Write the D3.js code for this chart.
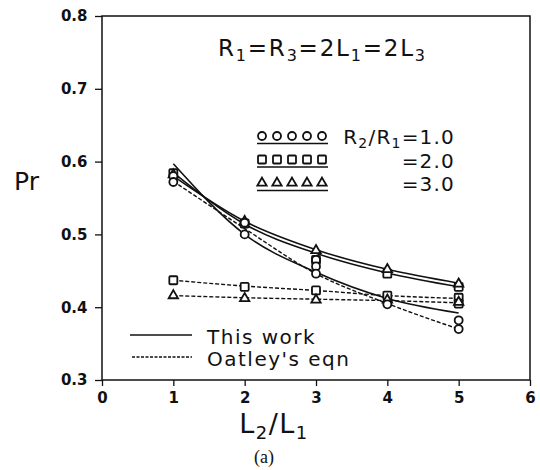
<!DOCTYPE html>
<html>
<head>
<meta charset="utf-8">
<script src="https://cdn.jsdelivr.net/npm/d3@7"></script>
<style>
  body { margin: 0; background: #fff; }
  text { font-family: "DejaVu Sans", sans-serif; fill: #111; }
</style>
</head>
<body>
<div id="chart"></div>
<script>
// L2/L1 positions
const ratios = [1, 2, 3, 4, 5];

// solid lines ("This work")
const workCircle   = [0.597, 0.500, 0.448, 0.412, 0.392];
const workSquare   = [0.585, 0.514, 0.474, 0.447, 0.428];
const workTriangle = [0.580, 0.518, 0.479, 0.452, 0.433];

// dashed lines ("Oatley's eqn")
const oatCircle   = [0.573, 0.508, 0.446, 0.405, 0.370];
const oatSquare   = [0.437, 0.429, 0.423, 0.416, 0.412];
const oatTriangle = [0.416, 0.413, 0.411, 0.409, 0.406];

// plotted points [x, Pr]
const circlePts = [[1, 0.580], [1, 0.572], [2, 0.516], [2, 0.500], [3, 0.465], [3, 0.456], [3, 0.446], [4, 0.404], [5, 0.382], [5, 0.370]];
const squarePts = [[1, 0.584], [2, 0.515], [3, 0.465], [4, 0.446], [5, 0.428], [1, 0.437], [2, 0.428], [3, 0.423], [4, 0.416], [5, 0.413], [5, 0.405]];
const trianglePts = [[1, 0.582], [2, 0.518], [3, 0.478], [4, 0.452], [5, 0.432], [1, 0.416], [2, 0.412], [3, 0.410], [4, 0.410], [5, 0.407]];

const xTicks = [0, 1, 2, 3, 4, 5, 6];
const yTicks = [0.3, 0.4, 0.5, 0.6, 0.7, 0.8];
const legendRatios = [['R', '2', '/R', '1', '=1.0'], ['=2.0'], ['=3.0']];

const width = 540, height = 470;
const margin = { top: 16, right: 10, bottom: 90, left: 102 };
const w = width - margin.left - margin.right;
const h = height - margin.top - margin.bottom;

const svg = d3.select('#chart').append('svg')
  .attr('width', width)
  .attr('height', height);

const g = svg.append('g')
  .attr('transform', `translate(${margin.left}, ${margin.top})`);

const x = d3.scaleLinear().domain([0, 6]).range([0, w]);
const y = d3.scaleLinear().domain([0.3, 0.8]).range([h, 0]);

// frame
g.append('rect')
  .attr('width', w).attr('height', h)
  .attr('fill', 'none').attr('stroke', '#111').attr('stroke-width', 1.5);

const xAxis = g.append('g')
  .attr('transform', `translate(0, ${h})`)
  .call(d3.axisBottom(x).tickValues(xTicks).tickSize(6).tickFormat(d3.format('d')));
const yAxis = g.append('g')
  .call(d3.axisLeft(y).tickValues(yTicks).tickSize(7).tickFormat(d3.format('.1f')));

[xAxis, yAxis].forEach(a => {
  a.select('.domain').remove();
  a.selectAll('line').attr('stroke', '#111').attr('stroke-width', 1.3);
  a.selectAll('text')
    .attr('font-size', 15).attr('font-weight', 'bold').attr('fill', '#111');
});
xAxis.selectAll('text').attr('dy', '0.9em');
yAxis.selectAll('text').attr('dx', '-0.3em');

// lines
const line = d3.line()
  .x((d, i) => x(ratios[i]))
  .y(d => y(d))
  .curve(d3.curveMonotoneX);

[workCircle, workSquare, workTriangle].forEach(s => {
  g.append('path').attr('d', line(s))
    .attr('fill', 'none').attr('stroke', '#111').attr('stroke-width', 1.6);
});
[oatCircle, oatSquare, oatTriangle].forEach(s => {
  g.append('path').attr('d', line(s))
    .attr('fill', 'none').attr('stroke', '#111').attr('stroke-width', 1.4)
    .attr('stroke-dasharray', '4,2');
});

// markers
const tri = d3.symbol().type(d3.symbolTriangle).size(38);
function drawCircles(sel, pts) {
  sel.selectAll(null).data(pts).enter().append('circle')
    .attr('cx', d => d[0]).attr('cy', d => d[1]).attr('r', 4)
    .attr('fill', '#fff').attr('stroke', '#111').attr('stroke-width', 1.8);
}
function drawSquares(sel, pts) {
  sel.selectAll(null).data(pts).enter().append('rect')
    .attr('x', d => d[0] - 4).attr('y', d => d[1] - 4)
    .attr('width', 8).attr('height', 8).attr('rx', 1)
    .attr('fill', '#fff').attr('stroke', '#111').attr('stroke-width', 1.8);
}
function drawTriangles(sel, pts) {
  sel.selectAll(null).data(pts).enter().append('path')
    .attr('d', tri)
    .attr('transform', d => `translate(${d[0]}, ${d[1]})`)
    .attr('fill', '#fff').attr('stroke', '#111').attr('stroke-width', 1.8);
}
const px = pts => pts.map(p => [x(p[0]), y(p[1])]);
drawSquares(g, px(squarePts));
drawTriangles(g, px(trianglePts));
drawCircles(g, px(circlePts));

// text with alternating normal / subscript parts
function subText(sel, parts, size, subSize) {
  parts.forEach((p, i) => {
    const t = sel.append('tspan').text(p);
    if (i % 2 === 1) t.attr('font-size', subSize).attr('dy', size * 0.22);
    else if (i > 0) t.attr('dy', -size * 0.22);
  });
}

// legend: markers
const legendRows = [drawCircles, drawSquares, drawTriangles];
legendRows.forEach((fn, i) => {
  const ly = 120 + i * 23.5;
  const pts = d3.range(5).map(k => [160 + k * 15, ly]);
  fn(g, pts);
  g.append('line')
    .attr('x1', 155).attr('x2', 226).attr('y1', ly + 7.5).attr('y2', ly + 7.5)
    .attr('stroke', '#111').attr('stroke-width', 1.4);
  const t = g.append('text')
    .attr('x', 353).attr('y', ly + 8)
    .attr('text-anchor', 'end')
    .attr('letter-spacing', 1.2)
    .attr('font-size', 20);
  subText(t, legendRatios[i], 20, 14);
});

// legend: line styles
g.append('line').attr('x1', 28).attr('x2', 90).attr('y1', 319).attr('y2', 319)
  .attr('stroke', '#111').attr('stroke-width', 1.6);
g.append('line').attr('x1', 30).attr('x2', 90).attr('y1', 341).attr('y2', 341)
  .attr('stroke', '#111').attr('stroke-width', 1.4).attr('stroke-dasharray', '3,1.5');
g.append('text').attr('x', 105).attr('y', 328).attr('font-size', 20)
  .attr('letter-spacing', 1.5).text('This work');
g.append('text').attr('x', 105).attr('y', 350).attr('font-size', 20)
  .attr('letter-spacing', 1.5).text("Oatley's eqn");

// condition label
const cond = g.append('text').attr('x', 116).attr('y', 40)
  .attr('font-size', 23).attr('letter-spacing', 1.8);
subText(cond, ['R', '1', '=R', '3', '=2L', '1', '=2L', '3'], 23, 16);

// axis titles
svg.append('text').attr('x', 14).attr('y', 190).attr('font-size', 25).text('Pr');

const xt = svg.append('text').attr('x', 274).attr('y', 433)
  .attr('text-anchor', 'middle').attr('font-size', 27).attr('letter-spacing', 1.5);
subText(xt, ['L', '2', '/L', '1'], 27, 18);

svg.append('text').attr('x', 264).attr('y', 463)
  .attr('text-anchor', 'middle').attr('font-size', 18)
  .style('font-family', '"Liberation Serif", serif')
  .text('(a)');
</script>
</body>
</html>
